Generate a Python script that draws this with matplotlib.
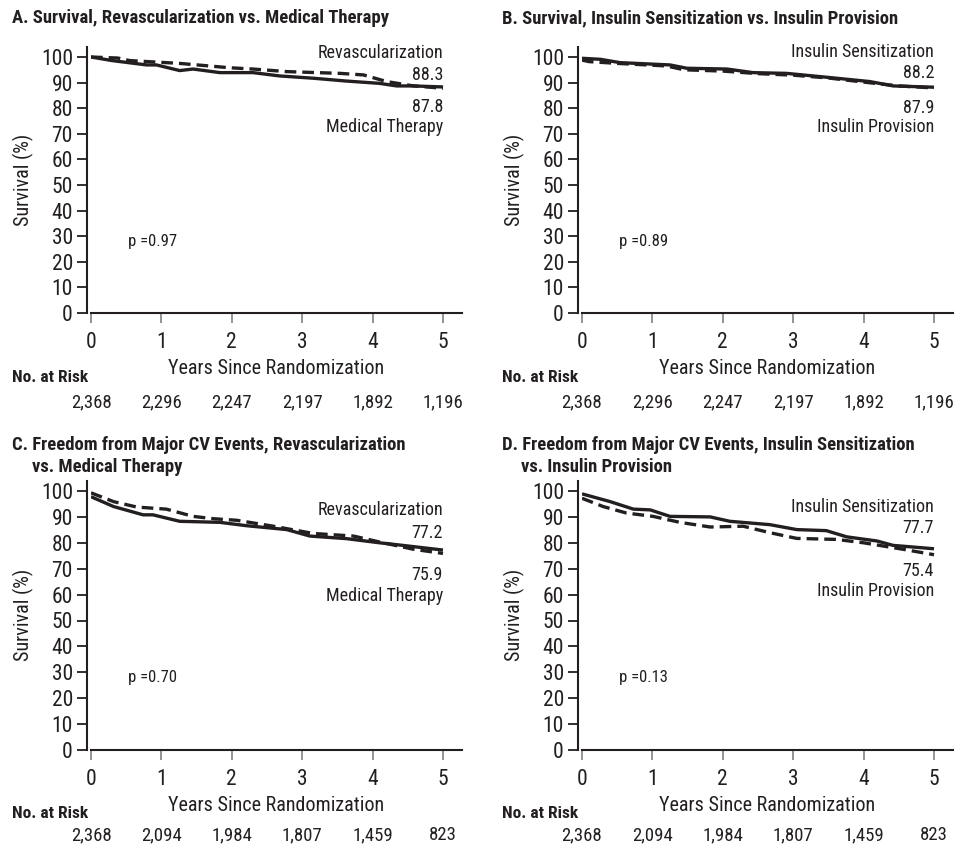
import matplotlib
matplotlib.use("Agg")
import matplotlib.pyplot as plt
from matplotlib import font_manager as fm
from matplotlib.transforms import blended_transform_factory

names = {f.name for f in fm.fontManager.ttflist}
family = 'DejaVu Sans'
for cand in ['Roboto Condensed', 'Liberation Sans Narrow', 'Open Sans Condensed', 'Liberation Sans']:
    if cand in names:
        family = cand
        break
plt.rcParams['font.family'] = [family, 'DejaVu Sans']

INK = '#231f20'

# ---------------- data ----------------
years_ticks = [0, 1, 2, 3, 4, 5]
y_ticks = [0, 10, 20, 30, 40, 50, 60, 70, 80, 90, 100]

# Panel A: survival, revascularization (solid) vs medical therapy (dashed)
a_rev_t = [0, 0.3, 0.79, 0.93, 1.26, 1.45, 1.83, 2.3, 2.68, 3.16, 3.63, 4.1, 4.34, 4.58, 5.0]
a_rev_v = [100, 98.6, 96.9, 96.9, 94.7, 95.3, 93.9, 93.9, 92.6, 91.7, 90.6, 89.7, 88.7, 88.7, 88.3]
a_med_t = [0, 0.38, 0.55, 1.26, 1.97, 2.3, 2.78, 3.54, 3.87, 4.2, 4.58, 5.0]
a_med_v = [100, 99.6, 98.6, 97.5, 95.8, 95.3, 94.3, 93.6, 93.0, 90.4, 88.7, 87.8]

# Panel B: survival, insulin sensitization (solid) vs insulin provision (dashed)
b_sen_t = [0, 0.26, 0.54, 1.25, 1.49, 2.06, 2.43, 2.91, 3.62, 4.09, 4.42, 5.0]
b_sen_v = [99.5, 99.1, 97.8, 96.9, 95.6, 95.3, 93.9, 93.6, 91.7, 90.4, 88.7, 88.2]
b_pro_t = [0, 0.1, 0.5, 1.2, 1.45, 2.0, 2.5, 3.0, 3.5, 4.0, 4.5, 5.0]
b_pro_v = [98.8, 98.2, 97.5, 96.5, 95.0, 94.5, 93.5, 92.9, 91.8, 90.2, 88.7, 87.9]

# Panel C: freedom from major CV events, revascularization (solid) vs medical (dashed)
c_rev_t = [0, 0.32, 0.74, 0.88, 1.26, 1.83, 2.21, 2.78, 3.11, 3.63, 4.1, 4.43, 5.0]
c_rev_v = [97.8, 94.0, 90.8, 90.8, 88.3, 87.9, 86.6, 85.1, 82.6, 81.6, 80.0, 79.0, 77.2]
c_med_t = [0, 0.32, 0.65, 1.07, 1.45, 1.74, 2.07, 2.59, 3.16, 3.73, 4.1, 4.58, 5.0]
c_med_v = [99.3, 95.9, 93.8, 93.0, 90.2, 89.3, 88.7, 86.4, 83.6, 82.6, 80.3, 77.5, 75.9]

# Panel D: freedom from major CV events, sensitization (solid) vs provision (dashed)
d_sen_t = [0, 0.4, 0.73, 0.97, 1.25, 1.82, 2.1, 2.67, 3.05, 3.47, 3.76, 4.19, 4.42, 5.0]
d_sen_v = [98.9, 95.9, 93.0, 92.7, 90.2, 90.0, 88.3, 87.0, 85.1, 84.7, 82.3, 80.7, 79.0, 77.7]
d_pro_t = [0, 0.3, 0.63, 1.01, 1.39, 1.82, 2.29, 2.67, 3.05, 3.62, 4.0, 4.56, 5.0]
d_pro_v = [97.2, 94.0, 91.5, 90.2, 87.9, 86.1, 86.4, 83.9, 81.7, 81.3, 80.0, 77.5, 75.4]

risk_ab = ['2,368', '2,296', '2,247', '2,197', '1,892', '1,196']
risk_cd = ['2,368', '2,094', '1,984', '1,807', '1,459', '823']

panels = [
    dict(title1='A. Survival, Revascularization vs. Medical Therapy', title2=None,
         solid=(a_rev_t, a_rev_v), dashed=(a_med_t, a_med_v),
         lab_top='Revascularization', val_top='88.3', val_bot='87.8', lab_bot='Medical Therapy',
         lab_y=(101.6, 93.0, 80.5, 72.7), p='p =0.97', risk=risk_ab),
    dict(title1='B. Survival, Insulin Sensitization vs. Insulin Provision', title2=None,
         solid=(b_sen_t, b_sen_v), dashed=(b_pro_t, b_pro_v),
         lab_top='Insulin Sensitization', val_top='88.2', val_bot='87.9', lab_bot='Insulin Provision',
         lab_y=(102.0, 93.6, 80.0, 72.8), p='p =0.89', risk=risk_ab),
    dict(title1='C. Freedom from Major CV Events, Revascularization', title2='vs. Medical Therapy',
         solid=(c_rev_t, c_rev_v), dashed=(c_med_t, c_med_v),
         lab_top='Revascularization', val_top='77.2', val_bot='75.9', lab_bot='Medical Therapy',
         lab_y=(92.7, 83.8, 67.5, 59.5), p='p =0.70', risk=risk_cd),
    dict(title1='D. Freedom from Major CV Events, Insulin Sensitization', title2='vs. Insulin Provision',
         solid=(d_sen_t, d_sen_v), dashed=(d_pro_t, d_pro_v),
         lab_top='Insulin Sensitization', val_top='77.7', val_bot='75.4', lab_bot='Insulin Provision',
         lab_y=(93.9, 85.7, 69.1, 61.2), p='p =0.13', risk=risk_cd),
]

# ---------------- layout (pixels) ----------------
W, H = 969, 848
fig = plt.figure(figsize=(W / 100, H / 100), dpi=100)

XMAX = 5.27
PX_PER_YR = 70.4
x0_px = [91, 582, 91, 582]
y0_px = [313, 313, 750, 750]
px_per_unit = [2.56, 2.56, 2.59, 2.59]
YMAX = 104
title_x = [12, 502, 12, 502]
title2_x = [32, 521, 32, 521]
title_y = [18, 18, 445, 445]
risk_lab_off = [65, 65, 63, 63]
risk_num_off = [89, 89, 85, 85]

for i, p in enumerate(panels):
    left = x0_px[i] / W
    width = XMAX * PX_PER_YR / W
    bottom = 1 - y0_px[i] / H
    height = YMAX * px_per_unit[i] / H
    ax = fig.add_axes([left, bottom, width, height])
    ax.set_xlim(0, XMAX)
    ax.set_ylim(0, YMAX)

    ax.plot(p['solid'][0], p['solid'][1], color=INK, lw=2.4, solid_joinstyle='round',
            solid_capstyle='butt', zorder=3)
    ax.plot(p['dashed'][0], p['dashed'][1], color=INK, lw=2.4,
            linestyle=(0, (3.5, 1.8)), zorder=2)

    for s in ['top', 'right']:
        ax.spines[s].set_visible(False)
    ax.spines['left'].set_position(('outward', 3))
    ax.spines['left'].set_bounds(0, YMAX)
    for s in ['left', 'bottom']:
        ax.spines[s].set_linewidth(1.5)
        ax.spines[s].set_color(INK)

    ax.set_xticks(years_ticks)
    ax.set_yticks(y_ticks)
    ax.tick_params(axis='both', direction='out', length=7, width=1.3, color=INK,
                   labelsize=15.5, labelcolor=INK, pad=3)
    ax.tick_params(axis='x', color='#777777', width=1.1, pad=7)
    ax.set_xlabel('Years Since Randomization', fontsize=14.5, color=INK, labelpad=4)
    ax.set_ylabel('Survival (%)', fontsize=14.5, color=INK, labelpad=5)

    ly = p['lab_y']
    for txt, yy in zip([p['lab_top'], p['val_top'], p['val_bot'], p['lab_bot']], ly):
        ax.text(5.0, yy, txt, ha='right', va='center', fontsize=13, color=INK)
    ax.text(0.53, 28, p['p'], ha='left', va='center', fontsize=12, color=INK)

    # titles
    fig.text(title_x[i] / W, 1 - title_y[i] / H, p['title1'], ha='left', va='center',
             fontsize=13.4, fontweight='bold', color=INK)
    if p['title2']:
        fig.text(title2_x[i] / W, 1 - (title_y[i] + 22) / H, p['title2'], ha='left',
                 va='center', fontsize=13.4, fontweight='bold', color=INK)

    # number at risk
    fig.text(title_x[i] / W, 1 - (y0_px[i] + risk_lab_off[i]) / H, 'No. at Risk', ha='left',
             va='center', fontsize=12.5, fontweight='bold', color=INK)
    tr = blended_transform_factory(ax.transData, fig.transFigure)
    num_y = 1 - (y0_px[i] + risk_num_off[i]) / H
    for t, n in zip(years_ticks, p['risk']):
        ax.text(t, num_y, n, transform=tr, ha='center', va='center', fontsize=13.5, color=INK)

fig.savefig('out.png', dpi=100)
